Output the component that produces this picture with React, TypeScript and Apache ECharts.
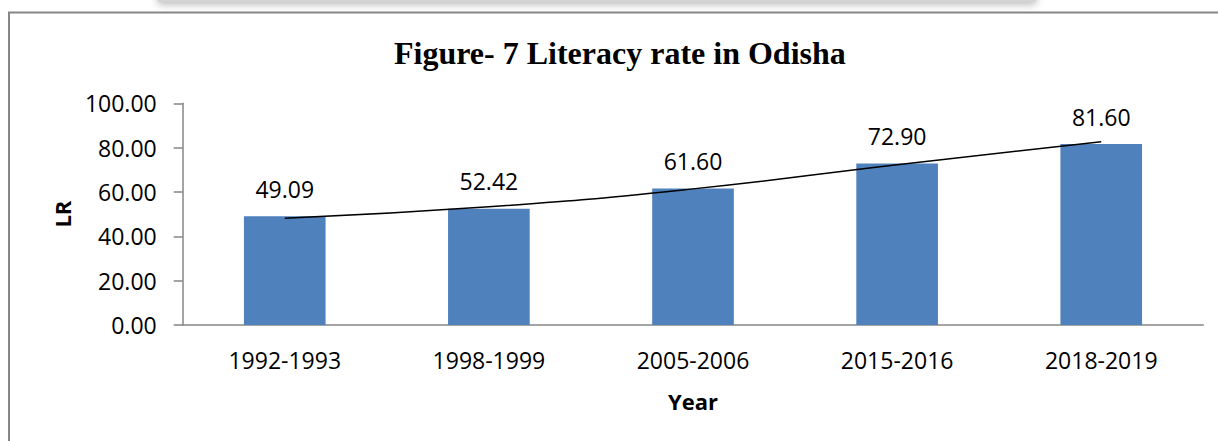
import React, { useEffect, useRef } from "react";
import * as echarts from "echarts";

const categories = ["1992-1993", "1998-1999", "2005-2006", "2015-2016", "2018-2019"];
const literacyRate = [49.09, 52.42, 61.6, 72.9, 81.6];
// trend line values at each category centre
const trendValues = [48.2, 53.3, 61.4, 72.3, 82.7];
const yTicks = { min: 0, max: 100, interval: 20 };

export default function App() {
  const ref = useRef<HTMLDivElement>(null);
  useEffect(() => {
    if (!ref.current) return;
    const chart = echarts.init(ref.current, undefined, { renderer: "svg" });
    const sans = "Open Sans";
    chart.setOption({
      animation: false,
      backgroundColor: "#ffffff",
      title: {
        text: "Figure- 7 Literacy rate in Odisha",
        left: 394,
        top: 37,
        padding: 0,
        textStyle: {
          fontFamily: "Liberation Serif",
          fontWeight: "bold",
          fontSize: 32,
          color: "#000000",
        },
      },
      graphic: [
        {
          type: "rect",
          z: -10,
          shape: { x: 158, y: -14, width: 878, height: 16 },
          style: {
            fill: "#d4d4d4",
            shadowBlur: 8,
            shadowColor: "rgba(0,0,0,0.3)",
            shadowOffsetY: 2,
          },
        },
        {
          type: "rect",
          z: -10,
          shape: { x: 9, y: 12.5, width: 1300, height: 600 },
          style: { fill: "none", stroke: "#868686", lineWidth: 2 },
        },
      ],
      grid: { left: 182.7, right: 14.7, top: 103.3, bottom: 116 },
      xAxis: {
        type: "category",
        data: categories,
        name: "Year",
        nameLocation: "middle",
        nameGap: 65,
        nameTextStyle: { fontFamily: sans, fontWeight: "bold", fontSize: 22, color: "#000" },
        axisLine: { show: true, lineStyle: { color: "#868686", width: 1.5 } },
        axisTick: { show: false },
        axisLabel: { fontFamily: sans, fontSize: 23, color: "#000", margin: 23 },
      },
      yAxis: {
        type: "value",
        min: yTicks.min,
        max: yTicks.max,
        interval: yTicks.interval,
        name: "LR",
        nameLocation: "middle",
        nameGap: 110,
        nameRotate: 90,
        nameTextStyle: { fontFamily: sans, fontWeight: "bold", fontSize: 22, color: "#000" },
        axisLine: { show: true, lineStyle: { color: "#868686", width: 1.5 } },
        axisTick: { show: true, length: 9, lineStyle: { color: "#868686", width: 1.5 } },
        splitLine: { show: false },
        axisLabel: {
          fontFamily: sans,
          fontSize: 23,
          color: "#000",
          margin: 26,
          formatter: (v: number) => v.toFixed(2),
        },
      },
      series: [
        {
          type: "bar",
          data: literacyRate,
          barWidth: "40%",
          itemStyle: { color: "#4F81BD" },
          label: {
            show: true,
            position: "top",
            distance: 16,
            fontFamily: sans,
            fontSize: 23,
            color: "#000",
            formatter: (p: any) => Number(p.value).toFixed(2),
          },
        },
        {
          type: "line",
          data: trendValues,
          smooth: true,
          symbol: "none",
          lineStyle: { color: "#000", width: 1.5 },
          z: 5,
        },
      ],
    });
    return () => chart.dispose();
  }, []);
  return (
    <div
      ref={ref}
      style={{ position: "absolute", left: 0, top: 0, width: 1218, height: 441 }}
    />
  );
}
